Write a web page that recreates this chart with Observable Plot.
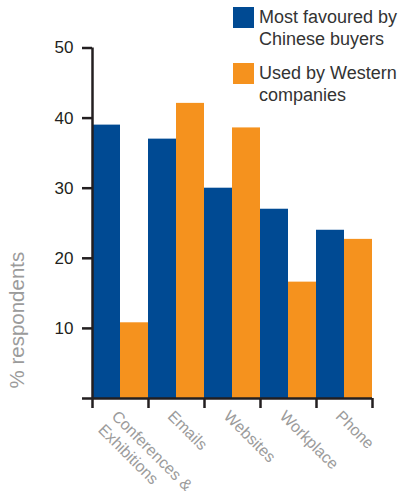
<!DOCTYPE html>
<html>
<head>
<meta charset="utf-8">
<script src="https://cdn.jsdelivr.net/npm/d3@7"></script>
<script src="https://cdn.jsdelivr.net/npm/@observablehq/plot@0.6"></script>
<style>
  html, body { margin: 0; padding: 0; background: #fff; }
  #wrap { position: relative; width: 402px; height: 491px; font-family: "Liberation Sans", Arial, sans-serif; }
  #legend { position: absolute; left: 233px; top: 0; color: #333; font-size: 18px; line-height: 22px; }
  .item { position: absolute; left: 0; white-space: nowrap; }
  .sw { position: absolute; left: 0; top: 1px; width: 21px; height: 21px; }
  .lab { position: absolute; left: 26px; top: 0; }
</style>
</head>
<body>
<div id="wrap"><div id="legend"></div></div>
<script>
const categories = ["Conferences &\nExhibitions", "Emails", "Websites", "Workplace", "Phone"];
const series = ["Most favoured by\nChinese buyers", "Used by Western\ncompanies"];
const chineseBuyers = [39, 37, 30, 27, 24];
const westernCompanies = [10.8, 42.1, 38.6, 16.6, 22.7];
const yTicks = [0, 10, 20, 30, 40, 50];
const colors = ["#004a93", "#f5921e"];

const values = [chineseBuyers, westernCompanies];
const rows = [];
categories.forEach((c, i) => {
  series.forEach((s, j) => {
    rows.push({category: c, ci: i, series: s, sj: j, value: values[j][i]});
  });
});

const ink = "#231f20";
const chart = Plot.plot({
  width: 402,
  height: 491,
  marginLeft: 92,
  marginRight: 30,
  marginTop: 47.5,
  marginBottom: 93,
  style: {fontFamily: "'Liberation Sans', Arial, sans-serif", color: ink, background: "transparent", overflow: "visible"},
  x: {type: "linear", domain: [0, categories.length], axis: null},
  y: {domain: [0, 50], axis: null},
  color: {domain: series, range: colors},
  marks: [
    Plot.rectY(rows, {
      x1: d => d.ci + d.sj / series.length,
      x2: d => d.ci + (d.sj + 1) / series.length,
      y: "value",
      fill: "series"
    }),
    Plot.axisY({ticks: yTicks, tickSize: 10, tickPadding: 9, strokeWidth: 2.5, fontSize: 17, tickFormat: d => d === 0 ? "" : d, label: null}),
    Plot.axisX({ticks: d3.range(categories.length + 1), tickSize: 10, strokeWidth: 2.5, tickFormat: () => "", label: null}),
    Plot.ruleX([0], {stroke: ink, strokeWidth: 2.5}),
    Plot.ruleY([0], {stroke: ink, strokeWidth: 2.5}),
    Plot.text(categories, {
      x: (d, i) => i + 0.5,
      frameAnchor: "bottom",
      dy: 9,
      rotate: 45,
      textAnchor: "start",
      lineAnchor: "top",
      lineHeight: 1.2,
      fill: "#9b9b9b",
      fontSize: 16
    }),
    Plot.text(["% respondents"], {
      frameAnchor: "bottom-left",
      dx: -75,
      dy: -10,
      rotate: -90,
      textAnchor: "start",
      lineAnchor: "middle",
      fill: "#9b9b9b",
      fontSize: 20.5
    })
  ]
});
document.getElementById("wrap").prepend(chart);

const legend = document.getElementById("legend");
const tops = [6, 62];
series.forEach((s, j) => {
  const item = document.createElement("div");
  item.className = "item";
  item.style.top = tops[j] + "px";
  const sw = document.createElement("div");
  sw.className = "sw";
  sw.style.background = colors[j];
  const lab = document.createElement("div");
  lab.className = "lab";
  lab.innerHTML = s.split("\n").join("<br>");
  item.appendChild(sw);
  item.appendChild(lab);
  legend.appendChild(item);
});
</script>
</body>
</html>
